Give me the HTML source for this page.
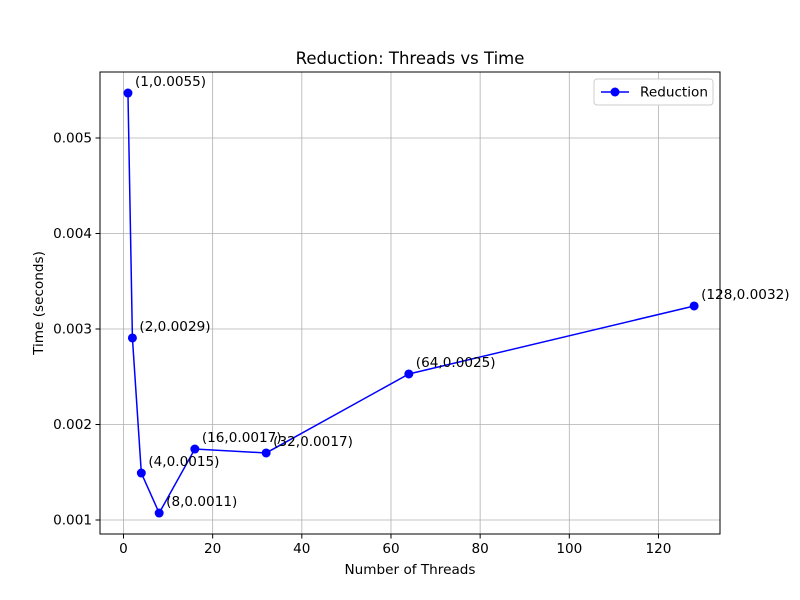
<!DOCTYPE html>
<html><head><meta charset="utf-8"><style>
body{margin:0;background:#fff;}
svg{display:block;font-family:"DejaVu Sans","Liberation Sans",sans-serif;}
</style></head><body>
<svg id="chart" width="800" height="600">
<rect width="800" height="600" fill="#fff"/>
<text x="410" y="64" font-size="16.5" text-anchor="middle">Reduction: Threads vs Time</text>
<g id="grid"></g>
<g id="axes"></g>
<g id="series"></g>
<rect x="100" y="72" width="620" height="462" fill="none" stroke="#000" stroke-width="1"/>
<text x="410" y="574" font-size="13.6" text-anchor="middle">Number of Threads</text>
<text transform="translate(43,303) rotate(-90)" font-size="13.6" text-anchor="middle">Time (seconds)</text>
<g>
<rect x="594" y="79" width="119" height="26" rx="3" fill="#fff" stroke="#ccc"/>
<line x1="601" y1="92" x2="629" y2="92" stroke="#0000ff" stroke-width="1.5"/>
<circle cx="615" cy="92" r="4.5" fill="#0000ff"/>
<text x="640" y="96.5" font-size="13.6">Reduction</text>
</g>
</svg>
<script>
const threads=[1,2,4,8,16,32,64,128];
const times=[0.005471,0.002906,0.001492,0.001073,0.001743,0.001702,0.002529,0.003241];
const xTicks=[0,20,40,60,80,100,120];
const yTicks=[0.001,0.002,0.003,0.004,0.005];
const NS="http://www.w3.org/2000/svg";
const X=v=>123.5+v*4.458;
const Y=v=>520-(v-0.001)*95500;
function mk(t,a,p){const e=document.createElementNS(NS,t);for(const k in a)e.setAttribute(k,a[k]);p.appendChild(e);return e;}
const grid=document.getElementById('grid'),axes=document.getElementById('axes'),ser=document.getElementById('series');
xTicks.forEach(t=>{const x=X(t);
 const g=mk('line',{x1:x,x2:x,y1:72,y2:534,stroke:'#b0b0b0','stroke-width':0.8},grid);
 
 const k=mk('line',{x1:x,x2:x,y1:534,y2:538.5,stroke:'#000'},axes);
 
 const l=mk('text',{x:x,y:553,'font-size':13.6,'text-anchor':'middle'},axes);l.textContent=t;
 });
yTicks.forEach(t=>{const y=Y(t);
 const g=mk('line',{x1:100,x2:720,y1:y,y2:y,stroke:'#b0b0b0','stroke-width':0.8},grid);
 
 const k=mk('line',{x1:95.5,x2:100,y1:y,y2:y,stroke:'#000'},axes);
 
 const l=mk('text',{x:92,y:y+4.5,'font-size':13.6,'text-anchor':'end'},axes);l.textContent=t.toFixed(3);
 });
const pl=mk('polyline',{points:threads.map((t,i)=>X(t)+','+Y(times[i])).join(' '),fill:'none',stroke:'#0000ff','stroke-width':1.5},ser);

threads.forEach((t,i)=>{
 const c=mk('circle',{cx:X(t),cy:Y(times[i]),r:4.5,fill:'#0000ff'},ser);
 
 const l=mk('text',{x:X(t)+7,y:Y(times[i])-7,'font-size':13.6},ser);
 l.textContent='('+t+','+times[i].toFixed(4)+')';
 });
</script>
</body></html>
